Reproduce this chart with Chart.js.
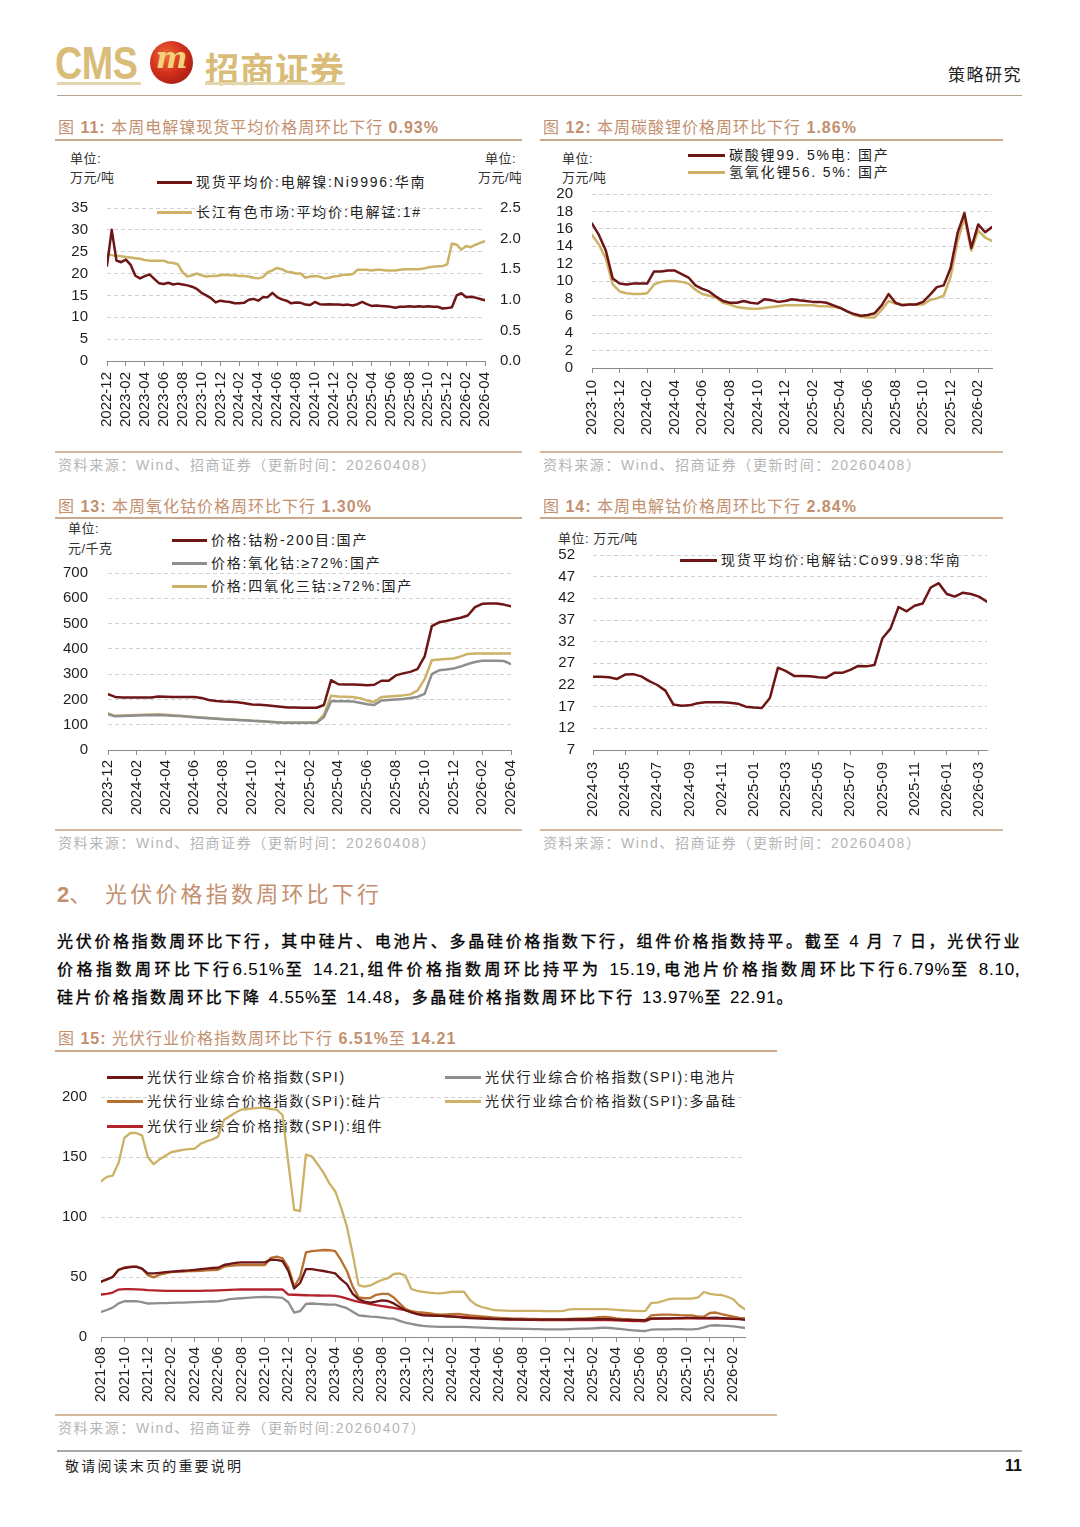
<!DOCTYPE html>
<html lang="zh-CN"><head><meta charset="utf-8">
<title>策略研究</title>
<script src="https://cdn.jsdelivr.net/npm/chart.js@4.4.1/dist/chart.umd.min.js"></script>
<style>
html,body{margin:0;padding:0;background:#fff;}
#page{position:relative;width:1080px;height:1527px;overflow:hidden;font-family:"Liberation Sans","Noto Sans CJK SC",sans-serif;}
.a{position:absolute;white-space:nowrap;z-index:1;}
.t{font-size:16px;color:#c3906f;letter-spacing:1px;}
.src{font-size:14px;color:#b5b5b5;letter-spacing:1.6px;}
.un{font-size:13px;color:#333;letter-spacing:0.5px;}
.lg{font-size:14px;color:#222;letter-spacing:1.8px;}
.p{font-size:16px;color:#000;letter-spacing:2.6px;-webkit-text-stroke:0.35px #000;}
.p .n{font-size:17px;letter-spacing:0.8px;-webkit-text-stroke:0;}
canvas{position:absolute;z-index:2;}
</style></head><body><div id="page"></div>
<script>
// ================= DATA =================
// Figure 11: nickel (left axis) / manganese (right axis), half-month samples from 2022-12
const f11Start = [2022, 12];
const f11Names = ['现货平均价:电解镍:Ni9996:华南', '长江有色市场:平均价:电解锰:1#'];
const f11Nickel = [21.8,30.0,23.0,22.6,23.2,22.0,19.5,18.9,19.4,19.8,
  18.8,17.8,17.6,17.9,17.5,17.7,17.5,17.3,17.0,16.5,
  15.6,15.0,14.4,13.4,13.8,13.6,13.5,13.2,13.2,13.3,
  14.0,14.2,13.8,14.6,14.6,15.6,14.6,14.1,13.8,13.2,
  13.4,13.3,12.9,12.8,13.5,13.0,12.9,13.0,12.9,12.9,
  12.8,12.9,12.7,13.0,13.5,13.0,12.6,12.7,12.6,12.5,
  12.4,12.2,12.4,12.4,12.5,12.4,12.5,12.4,12.5,12.4,
  12.4,12.0,12.1,12.3,15.0,15.5,14.6,14.7,14.5,14.2,13.9];
const f11Manganese = [1.75,1.73,1.72,1.71,1.70,1.69,1.68,1.67,1.65,1.64,
  1.64,1.64,1.64,1.61,1.60,1.58,1.45,1.38,1.40,1.43,
  1.40,1.38,1.39,1.39,1.40,1.41,1.40,1.40,1.39,1.39,
  1.38,1.36,1.35,1.37,1.45,1.48,1.52,1.50,1.46,1.45,
  1.43,1.43,1.36,1.38,1.39,1.38,1.35,1.36,1.38,1.39,
  1.41,1.41,1.42,1.49,1.49,1.49,1.48,1.49,1.49,1.48,
  1.48,1.48,1.49,1.50,1.50,1.50,1.50,1.51,1.53,1.54,
  1.55,1.55,1.58,1.92,1.90,1.82,1.88,1.86,1.90,1.93,1.96];
const f11LeftTicks = [0,5,10,15,20,25,30,35];
const f11RightTicks = [0,0.5,1.0,1.5,2.0,2.5];

// Figure 12: lithium carbonate / lithium hydroxide, half-month samples from 2023-10
const f12Start = [2023, 10];
const f12Names = ['碳酸锂99. 5%电: 国产', '氢氧化锂56. 5%: 国产'];
const f12Carbonate = [16.6,15.3,13.5,10.3,9.7,9.6,9.7,9.7,9.7,11.1,
  11.1,11.2,11.2,10.8,10.4,9.5,9.1,8.8,8.2,7.7,
  7.5,7.5,7.7,7.5,7.4,7.9,7.8,7.6,7.7,7.9,
  7.8,7.7,7.6,7.6,7.5,7.2,6.9,6.5,6.2,6.0,
  6.1,6.3,7.2,8.5,7.5,7.2,7.3,7.3,7.6,8.4,
  9.3,9.5,11.5,15.5,17.8,13.8,16.5,15.6,16.2];
const f12Hydroxide = [15.3,14.2,12.6,9.6,8.8,8.6,8.5,8.5,8.6,9.6,
  9.9,10.0,10.0,9.9,9.7,9.0,8.5,8.3,8.1,7.5,
  7.3,7.0,6.9,6.8,6.8,6.9,7.0,7.1,7.2,7.2,
  7.2,7.2,7.2,7.1,7.1,7.0,6.9,6.5,6.1,5.9,
  5.8,5.8,6.7,7.7,7.4,7.3,7.3,7.3,7.3,7.8,
  8.0,8.3,10.5,14.5,17.3,13.5,15.8,15.0,14.6];
const f12Ticks = [0,2,4,6,8,10,12,14,16,18,20];

// Figure 13: cobalt powder / cobalt oxide / tricobalt tetroxide, half-month samples from 2023-12
const f13Start = [2023, 12];
const f13Names = ['价格:钴粉-200目:国产', '价格:氧化钴:≥72%:国产', '价格:四氧化三钴:≥72%:国产'];
const f13Powder = [221,210,208,208,208,208,208,212,211,210,
  210,210,210,206,198,194,192,191,189,185,
  180,179,177,174,171,168,168,167,167,167,
  178,276,260,259,259,258,256,258,274,274,
  295,303,309,320,370,490,505,510,517,523,
  532,565,578,579,579,575,568];
const f13Oxide = [142,133,134,135,136,137,137,138,137,135,
  134,132,130,128,126,124,122,121,119,118,
  116,115,113,111,109,108,108,108,108,108,
  130,193,193,193,192,187,181,178,196,198,
  200,202,206,210,222,300,315,318,322,330,
  340,348,353,353,353,352,340];
const f13Tetroxide = [145,135,136,137,138,139,140,141,139,137,
  135,133,131,129,127,125,123,121,120,118,
  116,114,112,110,108,108,108,108,109,109,
  140,215,212,211,210,205,195,190,210,212,
  214,216,220,235,280,355,358,360,362,370,
  380,382,382,382,382,382,382];
const f13Ticks = [0,100,200,300,400,500,600,700];

// Figure 14: electrolytic cobalt, half-month samples from 2024-03
const f14Start = [2024, 3];
const f14Names = ['现货平均价:电解钴:Co99.98:华南'];
const f14Cobalt = [23.9,23.9,23.8,23.4,24.4,24.5,24.0,22.9,22.0,20.7,
  17.5,17.2,17.3,17.8,18.0,18.0,18.0,17.9,17.7,17.0,
  16.8,16.7,19.0,26.0,25.2,24.1,24.1,24.0,23.8,23.7,
  24.8,24.8,25.5,26.4,26.3,26.6,32.8,35.0,40.0,39.0,
  40.3,40.8,44.5,45.5,43.0,42.4,43.3,43.0,42.4,41.2];
const f14Ticks = [7,12,17,22,27,32,37,42,47,52];

// Figure 15: PV price indices (SPI), half-month samples from 2021-08
const f15Start = [2021, 8];
const f15Names = ['光伏行业综合价格指数(SPI)', '光伏行业综合价格指数(SPI):电池片', '光伏行业综合价格指数(SPI):硅片', '光伏行业综合价格指数(SPI):多晶硅', '光伏行业综合价格指数(SPI):组件'];
const f15Spi = [46,48,50,56,57.5,58.3,58.6,57,53,53,
  53.5,54,54.4,54.8,55.2,55.5,56,56.5,57,57.5,
  57.7,60,61,61.8,62.2,62.2,62.2,62.2,62.2,64.5,
  64.3,63.3,55,40.4,45,56.5,56.5,55.8,55,54,
  53,48,44,36,31.5,29.5,28.7,29.5,30.5,30,
  28,25,22.3,20.5,19,18.1,17.8,17.7,17.6,17.3,
  17,16.5,16,15.8,15.6,15.4,15.2,15,14.9,14.8,
  14.8,14.7,14.6,14.5,14.5,14.5,14.5,14.5,14.5,14.5,
  14.6,14.7,14.8,14.8,14.8,14.9,14.9,14.8,14.5,14.3,
  14.2,14.1,14,14,15.3,15.4,15.5,15.6,15.7,15.8,
  15.9,15.9,15.8,15.7,16,16.2,15.8,15.4,15.1,14.9,14.2];
const f15Cell = [20.9,22.5,24.5,28,29.8,29.8,29.8,29,27.9,28,
  28.2,28.3,28.5,28.6,28.7,28.8,29,29.2,29.4,29.6,
  29.8,30.5,31.5,32,32.3,32.6,33,33.3,33.5,33.3,
  33,32.6,29,20.4,21.5,27.5,27.9,27.6,27.3,27,
  27,25.5,24,21,18.1,17.5,17,16.7,16.2,15.5,
  15.3,13.5,12,11,10,9.2,8.9,8.7,8.5,8.4,
  8.4,8.4,8.4,8.2,8,7.8,7.6,7.4,7.2,7.1,
  7,6.9,6.8,6.7,6.6,6.5,6.4,6.4,6.4,6.4,
  6.6,6.8,7,7,7.2,7.5,7.8,7.5,7,6.5,
  6,5.6,5.2,5,6.2,6.4,6.4,6.4,6.5,6.5,
  6.4,6.4,6.8,8,9.5,9.8,9.5,9.2,8.8,8.2,7.5];
const f15Wafer = [46,48,50,56,58,58.6,58.6,57,51.5,49.7,
  52,53,54,54.4,54.6,55,55,55.2,55.5,55.8,
  56,58.6,59.2,59.8,60,60,60,60,60,66,
  67,65.5,58,42,50,70.5,71.5,72,72.5,72.3,
  71.5,64,55,42,33,32.3,32.5,35.2,36,36,
  33,28,23.5,21.5,20.8,20.4,19.8,19,18.7,18.8,
  19,19.2,18.7,18,17.6,17.2,16.8,16.3,16,15.7,
  15.4,15.3,15.2,15.1,15,14.9,14.8,14.8,14.8,14.8,
  15,15.2,15.3,15.6,16,16.5,16.7,16.3,15.5,15,
  14.8,14.5,14.2,14,18.1,18.5,18.7,18.7,18.5,18.2,
  18.1,18,17,17,20,20.4,19,18.1,17,16,15.3];
const f15Poly = [129.7,133.5,134.5,145,166,170,170,168,150,144,
  148,151,154,155,156,156.5,157,161,163,164.6,
  167,181,184,187,189.5,190,190.5,191,191,190,
  189.5,185,145,106,105,152,150.6,144,137,128,
  121.5,108,92,69,43.2,42,43,45.5,47.5,49,
  52.5,53,51,40,38.5,37.7,37,36.5,36.3,37,
  37.7,37.7,37.7,31,27,25,23.8,22.5,22.2,22,
  21.8,21.8,21.8,21.8,21.8,21.7,21.6,21.6,21.5,21.8,
  23,23.2,23.2,23.2,23.2,23.2,23.2,23,22.6,22.3,
  22,21.7,21.5,21.8,28.5,28.7,30,31.5,32,32,
  32,32,33,37.5,36,35.3,35,33.5,31.5,26.5,23];
const f15Module = [35.4,36,37,39.5,39.9,39.9,39.7,39.4,39,38.8,
  38.6,38.5,38.5,38.5,38.5,38.5,38.5,38.5,38.6,38.7,
  38.8,39,39.3,39.5,39.6,39.6,39.6,39.6,39.6,39.6,
  39.6,39.6,35.4,35.2,35,34.8,34.7,34.6,34.5,34.4,
  34.2,33.5,32,30.5,29.3,28.5,27.5,26.5,25.8,25,
  24.2,23.3,22.3,21.2,20.3,19.5,19,18.5,17.8,17.5,
  17.2,17,16.8,16.5,16.2,15.8,15.5,15.2,15,14.8,
  14.6,14.5,14.4,14.3,14.2,14.1,14,14,14,14,
  14,14,14,14,14,14,14,14,13.8,13.6,
  13.4,13.3,13.2,13.1,15.3,15.3,15.4,15.4,15.5,15.5,
  15.6,15.6,15.6,15.5,15.4,15.3,15.3,15.3,15.2,15.2,15.2];
const f15Ticks = [0,50,100,150,200];

// ================= STYLE =================
const FONT = "'Liberation Sans', 'Noto Sans CJK SC', sans-serif";
const MAROON = '#6e1515', GOLD = '#ccb266', GRAY = '#8e8e8e', WAFER = '#b7702f', MODULE = '#b3232b';
const LABEL_H = 18; // tick label line height (15px * 1.2)

const page = document.getElementById('page');
function txt(x, yc, html, cls, lh, extra) {
  const d = document.createElement('div');
  d.className = 'a ' + cls;
  d.style.left = x + 'px';
  d.style.top = (yc - lh / 2) + 'px';
  d.style.lineHeight = lh + 'px';
  d.innerHTML = html;
  if (extra) Object.assign(d.style, extra);
  page.appendChild(d);
  return d;
}
function box(x, y, w, h, color) {
  const d = document.createElement('div');
  d.style.cssText = 'position:absolute;z-index:1;left:' + x + 'px;top:' + y + 'px;width:' + w + 'px;height:' + h + 'px;background:' + color;
  page.appendChild(d);
  return d;
}
function legendRow(x, yc, color, text, sw) {
  box(x, yc - 1.5, sw, 3, color);
  const d = txt(x + sw + 4, yc, '', 'lg', 18);
  d.textContent = text;
}
function ym(start, off) {
  const t = start[0] * 12 + start[1] - 1 + Math.round(off);
  return Math.floor(t / 12) + '-' + String(t % 12 + 1).padStart(2, '0');
}
function pts(arr) { return arr.map((v, i) => ({ x: i / 2, y: v })); }

// g.area = [left, top, right, bottom] of the plotting area on the page
function build(g) {
  const [aL, aT, aR, aB] = g.area;
  const padTop = LABEL_H / 2 + g.yPad;
  const L = aL - g.yW, T = aT - padTop;
  const W = aR + (g.rW || g.pr) - L;
  const H = aB + 75 - T;
  const cv = document.createElement('canvas');
  cv.width = W; cv.height = H;
  cv.style.left = L + 'px'; cv.style.top = T + 'px';
  cv.style.width = W + 'px'; cv.style.height = H + 'px';
  page.appendChild(cv);
  const yT = g.yTicks;
  const scales = {
    x: {
      type: 'linear', min: 0, max: g.xMax, offset: false,
      grid: { display: true, drawOnChartArea: false, drawTicks: true, tickLength: 5, color: '#8a8a8a', lineWidth: 1 },
      border: { display: true, color: '#8a8a8a', width: 1 },
      ticks: {
        stepSize: 2, includeBounds: false, autoSkip: false, maxRotation: 90, minRotation: 90,
        padding: g.xPad, color: '#1e1e1e', font: { family: FONT, size: 15 },
        callback: (v) => (Math.abs(v % 2) < 1e-6 ? ym(g.start, v) : null)
      },
      afterFit: (s) => { s.height = 75; }
    },
    y: {
      type: 'linear', position: 'left', min: yT[0], max: yT[yT.length - 1],
      ticks: { stepSize: yT[1] - yT[0], autoSkip: false, padding: g.yPad, color: '#1e1e1e', font: { family: FONT, size: 15 } },
      grid: { color: '#d2d2d2', lineWidth: 1, drawTicks: false },
      border: { display: false, dash: [4, 3] },
      afterFit: (s) => { s.width = g.yW; }
    }
  };
  if (g.rTicks) {
    const r = g.rTicks;
    scales.y1 = {
      type: 'linear', position: 'right', min: r[0], max: r[r.length - 1],
      ticks: { stepSize: r[1] - r[0], autoSkip: false, padding: 15, color: '#1e1e1e', font: { family: FONT, size: 15 }, callback: (v) => v.toFixed(1) },
      grid: { display: false, drawTicks: false },
      border: { display: false },
      afterFit: (s) => { s.width = g.rW; }
    };
  }
  new Chart(cv, {
    type: 'line',
    data: {
      datasets: g.series.map((s) => ({
        label: s.name, data: pts(s.data), borderColor: s.color, backgroundColor: s.color,
        borderWidth: s.w || 2.5, yAxisID: s.axis || 'y', pointRadius: 0, fill: false, tension: 0
      }))
    },
    options: {
      responsive: false, animation: false,
      layout: { padding: { top: padTop, right: g.rW ? 0 : g.pr, left: 0, bottom: 0 } },
      plugins: { legend: { display: false }, tooltip: { enabled: false } },
      scales: scales,
      elements: { line: { borderJoinStyle: 'round', borderCapStyle: 'round' } }
    }
  });
  (g.legend || []).forEach((p, i) => legendRow(p[0], p[1], g.series[i].color, g.series[i].name, p[2]));
}

// ================= PAGE FURNITURE =================
txt(55, 59, 'CMS', '', 46, { font: "bold 46px 'Liberation Sans'", color: '#d9bc78', transform: 'scaleX(0.82)', transformOrigin: 'left center', letterSpacing: '-0.5px' });
const logo = box(150, 41, 43, 43, 'radial-gradient(circle at 38% 35%, #f06a3a 0%, #d2301c 45%, #8e1410 100%)');
logo.style.borderRadius = '50%';
txt(150, 61, '<i>m</i>', '', 43, { width: '43px', textAlign: 'center', font: "bold 30px 'DejaVu Serif'", color: '#f2d27a' });
txt(205, 63, '招商证券', '', 40, { font: "bold 34px 'Noto Sans CJK SC'", color: '#d9bc78', letterSpacing: '1px' });
box(57, 82, 84, 3, '#e4d6ac');
box(205, 82, 140, 3, '#e4d6ac');
txt(948, 74, '策略研究', '', 22, { fontSize: '17px', color: '#222', letterSpacing: '1.5px', fontFamily: "'Noto Sans CJK SC'" });
box(57, 95, 965, 1, '#b3a494');

// titles + rules
txt(58, 128, '图 <b>11:</b> 本周电解镍现货平均价格周环比下行 <b>0.93%</b>', 't', 20);
box(55, 139, 467, 2, '#cba98d');
txt(543, 128, '图 <b>12:</b> 本周碳酸锂价格周环比下行 <b>1.86%</b>', 't', 20);
box(540, 139, 463, 2, '#cba98d');
txt(58, 507, '图 <b>13:</b> 本周氧化钴价格周环比下行 <b>1.30%</b>', 't', 20);
box(55, 517, 467, 2, '#cba98d');
txt(543, 507, '图 <b>14:</b> 本周电解钴价格周环比下行 <b>2.84%</b>', 't', 20);
box(540, 517, 463, 2, '#cba98d');
txt(58, 1039, '图 <b>15:</b> 光伏行业价格指数周环比下行 <b>6.51%</b>至 <b>14.21</b>', 't', 20);
box(55, 1050, 722, 2, '#cba98d');

// source lines
box(55, 451, 467, 2, '#d6b89e'); box(540, 451, 463, 2, '#d6b89e');
box(55, 829, 467, 2, '#d6b89e'); box(540, 829, 463, 2, '#d6b89e');
box(55, 1414, 722, 2, '#d6b89e');
const SRC = '资料来源：Wind、招商证券（更新时间：20260408）';
txt(58, 465, SRC, 'src', 18); txt(543, 465, SRC, 'src', 18);
txt(58, 843, SRC, 'src', 18); txt(543, 843, SRC, 'src', 18);
txt(58, 1428, '资料来源：Wind、招商证券（更新时间:20260407）', 'src', 18);

// unit labels
txt(70, 158, '单位:', 'un', 19); txt(70, 177, '万元/吨', 'un', 19);
txt(485, 158, '单位:', 'un', 19);
txt(478, 177, '万元/吨', 'un', 19, { width: '43px', overflow: 'hidden' });
txt(562, 158, '单位:', 'un', 19); txt(562, 177, '万元/吨', 'un', 19);
txt(68, 528, '单位:', 'un', 19); txt(68, 548, '元/千克', 'un', 19);
txt(558, 538, '单位: 万元/吨', 'un', 19);

// section + paragraph
txt(57, 895, '<b>2</b>、', '', 30, { fontSize: '22px', color: '#c4906f' });
txt(105, 895, '光伏价格指数周环比下行', '', 30, { fontSize: '22px', color: '#c4906f', letterSpacing: '3.2px' });
const J = { width: '965px', textAlign: 'justify', textAlignLast: 'justify' };
txt(57, 942, '光伏价格指数周环比下行，其中硅片、电池片、多晶硅价格指数下行，组件价格指数持平。截至 <span class="n">4</span> 月 <span class="n">7</span> 日，光伏行业', 'p', 26, J);
txt(57, 970, '价格指数周环比下行<span class="n">6.51%</span>至 <span class="n">14.21</span>,组件价格指数周环比持平为 <span class="n">15.19</span>,电池片价格指数周环比下行<span class="n">6.79%</span>至 <span class="n">8.10</span>,', 'p', 26, J);
txt(57, 998, '硅片价格指数周环比下降 <span class="n">4.55%</span>至 <span class="n">14.48</span>，多晶硅价格指数周环比下行 <span class="n">13.97%</span>至 <span class="n">22.91</span>。', 'p', 26);

// footer
box(57, 1450, 965, 2, '#a8a8a8');
txt(65, 1466, '敬请阅读末页的重要说明', '', 20, { fontSize: '14px', color: '#222', letterSpacing: '2.2px' });
txt(990, 1466, '<b>11</b>', '', 20, { fontSize: '16px', color: '#111', width: '32px', textAlign: 'right' });

// ================= CHARTS =================
build({ area: [107, 208, 485, 361], yW: 52, yPad: 19, rW: 40, xPad: 6, xMax: 40,
  start: f11Start, yTicks: f11LeftTicks, rTicks: f11RightTicks,
  series: [
    { name: f11Names[0], data: f11Nickel, color: MAROON },
    { name: f11Names[1], data: f11Manganese, color: GOLD, axis: 'y1' }
  ],
  legend: [[157, 182, 35], [157, 212, 35]] });

build({ area: [592, 194, 992, 368], yW: 52, yPad: 19, pr: 18, xPad: 7, xMax: 29,
  start: f12Start, yTicks: f12Ticks,
  series: [
    { name: f12Names[0], data: f12Carbonate, color: MAROON },
    { name: f12Names[1], data: f12Hydroxide, color: GOLD }
  ],
  legend: [[688, 155, 37], [688, 172, 37]] });

build({ area: [108, 573, 511, 750], yW: 53, yPad: 20, pr: 25, xPad: 5, xMax: 28,
  start: f13Start, yTicks: f13Ticks,
  series: [
    { name: f13Names[0], data: f13Powder, color: MAROON },
    { name: f13Names[1], data: f13Oxide, color: GRAY },
    { name: f13Names[2], data: f13Tetroxide, color: GOLD }
  ],
  legend: [[172, 540, 35], [172, 563, 35], [172, 586, 35]] });

build({ area: [593, 555, 987, 750], yW: 53, yPad: 18, pr: 20, xPad: 7, xMax: 24.5,
  start: f14Start, yTicks: f14Ticks,
  series: [ { name: f14Names[0], data: f14Cobalt, color: MAROON } ],
  legend: [[680, 560, 37]] });

build({ area: [101, 1097, 745, 1337], yW: 46, yPad: 14, pr: 15, xPad: 5, xMax: 55,
  start: f15Start, yTicks: f15Ticks,
  series: [
    { name: f15Names[0], data: f15Spi, color: MAROON, w: 2.3 },
    { name: f15Names[1], data: f15Cell, color: GRAY, w: 2.3 },
    { name: f15Names[2], data: f15Wafer, color: WAFER, w: 2.3 },
    { name: f15Names[3], data: f15Poly, color: GOLD, w: 2.3 },
    { name: f15Names[4], data: f15Module, color: MODULE, w: 2.3 }
  ],
  legend: [[107, 1077, 36], [445, 1077, 36], [107, 1101, 36], [445, 1101, 36], [107, 1126, 36]] });
</script>
</body></html>
